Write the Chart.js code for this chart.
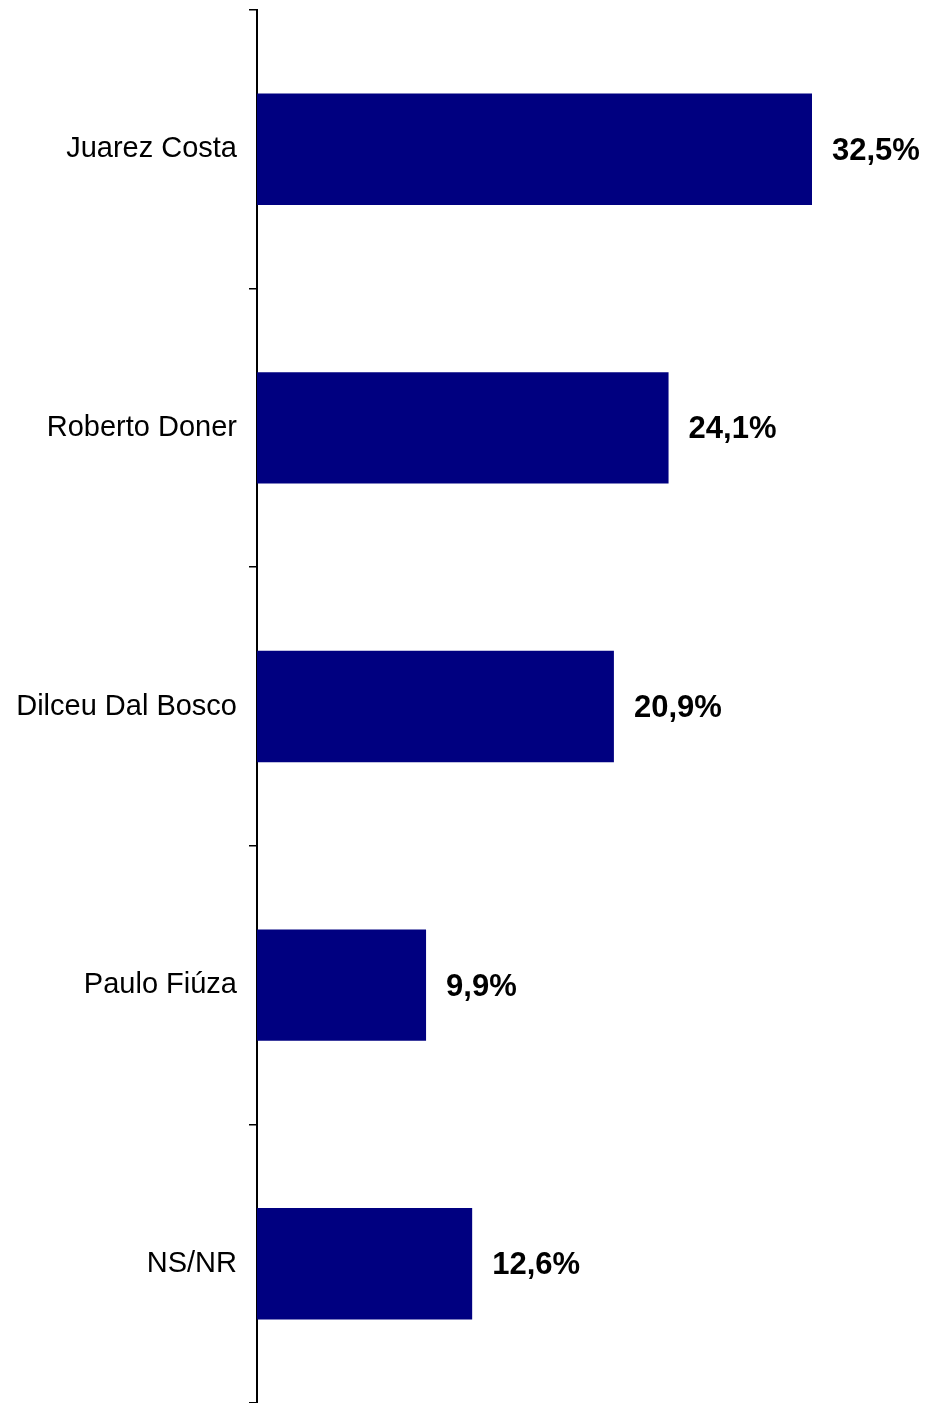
<!DOCTYPE html>
<html>
<head>
<meta charset="utf-8">
<script src="https://cdn.jsdelivr.net/npm/chart.js@4"></script>
<style>
  html, body { margin: 0; padding: 0; background: #fff; }
  #wrap { width: 933px; height: 1403px; }
</style>
</head>
<body>
<div id="wrap"><canvas id="chart" width="933" height="1403"></canvas></div>
<script>
const candidates = ["Juarez Costa", "Roberto Doner", "Dilceu Dal Bosco", "Paulo Fiúza", "NS/NR"];
const votes = [32.5, 24.1, 20.9, 9.9, 12.6];

// value labels to the right of each bar, "32,5%" style
const valueLabels = {
  id: "valueLabels",
  afterDatasetsDraw(chart) {
    const ctx = chart.ctx;
    const meta = chart.getDatasetMeta(0);
    ctx.save();
    ctx.font = "bold 31px 'Liberation Sans', Arial, sans-serif";
    ctx.fillStyle = "#000";
    ctx.textAlign = "left";
    ctx.textBaseline = "middle";
    meta.data.forEach((bar, i) => {
      const txt = votes[i].toFixed(1).replace(".", ",") + "%";
      ctx.fillText(txt, bar.x + 20, bar.y + 2);
    });
    ctx.restore();
  }
};

const ctx = document.getElementById("chart").getContext("2d");
new Chart(ctx, {
  type: "bar",
  data: {
    labels: candidates,
    datasets: [{
      data: votes,
      backgroundColor: "#000080",
      borderWidth: 0,
      categoryPercentage: 1,
      barPercentage: 0.4
    }]
  },
  options: {
    indexAxis: "y",
    responsive: false,
    animation: false,
    layout: { padding: { top: 10, right: 10, bottom: 0, left: 0 } },
    scales: {
      x: {
        display: false,
        min: 0,
        max: 39
      },
      y: {
        afterFit(scale) {
          scale.width = 257;
          scale.paddingTop = 0;
          scale.paddingBottom = 0;
        },
        grid: {
          offset: true,
          drawOnChartArea: false,
          drawTicks: true,
          tickLength: 8,
          color: "#000",
          lineWidth: 1.5
        },
        border: { display: true, color: "#000", width: 2 },
        ticks: {
          color: "#000",
          padding: 12,
          font: { family: "'Liberation Sans', Arial, sans-serif", size: 29 }
        }
      }
    },
    plugins: {
      legend: { display: false },
      tooltip: { enabled: false }
    }
  },
  plugins: [valueLabels]
});
</script>
</body>
</html>
